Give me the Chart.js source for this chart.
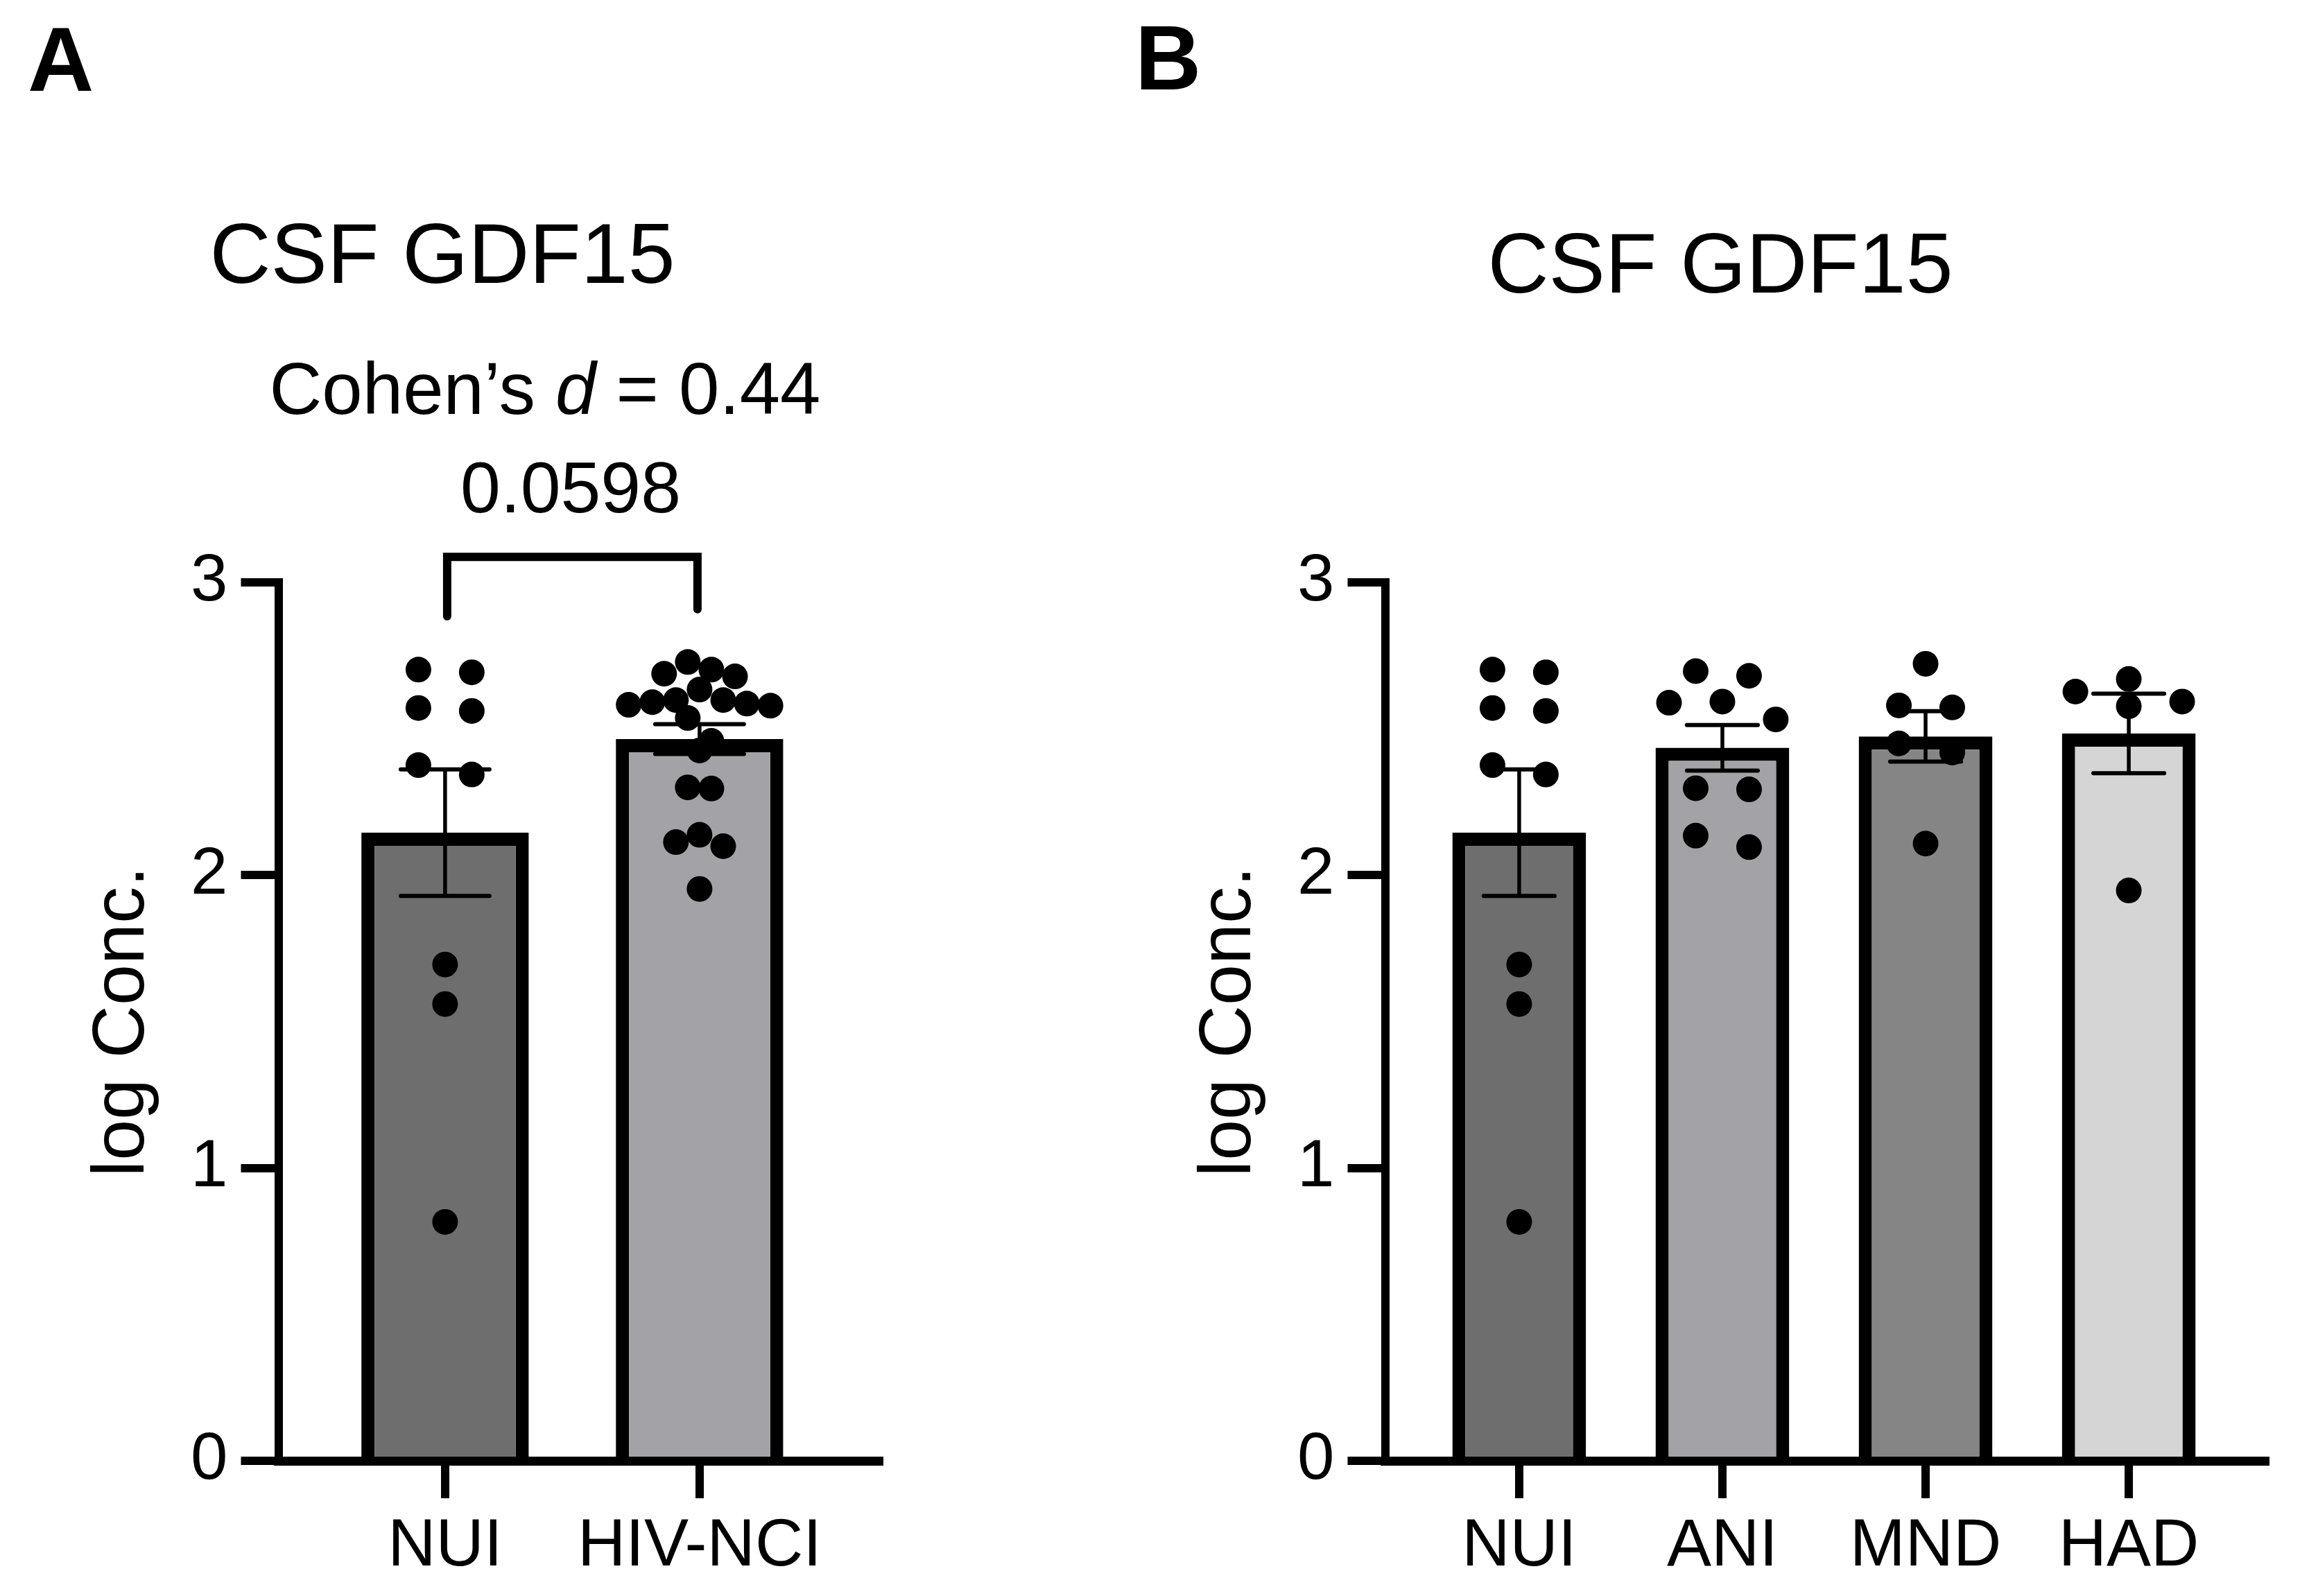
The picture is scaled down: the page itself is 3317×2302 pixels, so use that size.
<!DOCTYPE html>
<html><head><meta charset="utf-8">
<script src="https://cdn.jsdelivr.net/npm/chart.js@4.4.1/dist/chart.umd.min.js"></script>
<style>
html,body{margin:0;padding:0;background:#fff;}
body{width:3317px;height:2302px;position:relative;overflow:hidden;}
canvas{position:absolute;top:0;}
#cA{left:0;}
#cB{left:1600px;}
</style></head><body>
<canvas id="cA" width="1600" height="2302"></canvas>
<canvas id="cB" width="1717" height="2302"></canvas>
<script>
const FONT = "'Liberation Sans', Arial, Helvetica, sans-serif";

// ---------- data ----------
const catsA = ['NUI', 'HIV-NCI'];
const catsB = ['NUI', 'ANI', 'MND', 'HAD'];
const yTicks = [0, 1, 2, 3];

const nuiDots    = [2.702, 2.693, 2.571, 2.561, 2.376, 2.344, 1.695, 1.560, 0.816];
const hivNciDots = [2.728, 2.702, 2.688, 2.679, 2.634, 2.598, 2.598, 2.591, 2.586, 2.582,
                    2.579, 2.537, 2.459, 2.426, 2.300, 2.296, 2.138, 2.113, 2.099, 1.953];
const aniDots    = [2.697, 2.681, 2.593, 2.589, 2.532, 2.297, 2.293, 2.135, 2.096];
const mndDots    = [2.722, 2.580, 2.573, 2.450, 2.419, 2.108];
const hadDots    = [2.670, 2.627, 2.593, 2.577, 1.948];

const meansA = [2.145, 2.465];
const semA   = [0.216, 0.051];
const meansB = [2.145, 2.435, 2.474, 2.484];
const semB   = [0.216, 0.078, 0.086, 0.136];

const colorsA = ['#6e6e6e', '#a3a3a7'];
const colorsB = ['#6e6e6e', '#a3a3a7', '#858585', '#d5d5d5'];

const titleText = 'CSF GDF15';
const yTitle = 'log Conc.';
const effectParts = [{text: 'Cohen\u2019s '}, {text: 'd', italic: true}, {text: ' = 0.44'}];
const pText = '0.0598';
const bracketVals = {top: 3.087, left: 2.884, right: 2.908};

// ---------- helpers ----------
const DOT_R = 18.5;

function swarm(values, ys, barWidth, r) {
  const D = 2 * r, thr = 1.95 * r;
  const pts = values.map(v => ({v, py: ys.getPixelForValue(v), dx: 0})).sort((a, b) => a.py - b.py);
  const rows = []; let cur = null;
  pts.forEach(p => {
    if (!cur || p.py - cur.start >= thr) { cur = {start: p.py, pts: []}; rows.push(cur); }
    cur.pts.push(p);
  });
  const maxN = Math.max(...rows.map(rw => rw.pts.length));
  const step = maxN > 1 ? Math.min(4.16 * r, (barWidth - D) / (maxN - 1)) : 0;
  rows.forEach(row => {
    const n = row.pts.length, slots = [];
    for (let i = 0; i < n; i++) slots.push((i - (n - 1) / 2) * step);
    slots.sort((a, b) => Math.abs(a) - Math.abs(b) || a - b);
    row.pts.forEach((p, k) => p.dx = slots[k]);
  });
  return pts;
}

function drawMixed(ctx, parts, cx, baseline, size) {
  const fonts = parts.map(p => `${p.italic ? 'italic ' : ''}${size}px ${FONT}`);
  const widths = parts.map((p, i) => { ctx.font = fonts[i]; return ctx.measureText(p.text).width; });
  let x = cx - widths.reduce((a, b) => a + b, 0) / 2;
  ctx.textAlign = 'left';
  parts.forEach((p, i) => { ctx.font = fonts[i]; ctx.fillText(p.text, x, baseline); x += widths[i]; });
}

const errorBarPlugin = {
  id: 'errorBars',
  afterDatasetDraw(chart, args, opts) {
    const cfg = opts && opts.cfg;
    if (!cfg || args.meta.type !== 'bar') return;
    const ys = chart.scales.y, ctx = chart.ctx;
    ctx.save();
    ctx.strokeStyle = '#000';
    args.meta.data.forEach((el, i) => {
      const m = cfg.means[i], s = cfg.sems[i];
      const yU = ys.getPixelForValue(m + s), yL = ys.getPixelForValue(m - s);
      const half = el.width * 0.265;
      ctx.lineCap = 'butt'; ctx.lineWidth = 5.5;
      ctx.beginPath(); ctx.moveTo(el.x, yU); ctx.lineTo(el.x, yL); ctx.stroke();
      ctx.lineCap = 'round'; ctx.lineWidth = 6;
      ctx.beginPath();
      ctx.moveTo(el.x - half, yU); ctx.lineTo(el.x + half, yU);
      ctx.moveTo(el.x - half, yL); ctx.lineTo(el.x + half, yL);
      ctx.stroke();
    });
    ctx.restore();
  }
};

const annotatePlugin = {
  id: 'annotate',
  afterDraw(chart, args, opts) {
    const cfg = opts && opts.cfg;
    if (!cfg) return;
    const ctx = chart.ctx;
    ctx.save();
    ctx.fillStyle = '#000';
    ctx.textBaseline = 'alphabetic';
    cfg.annotate(ctx, chart);
    ctx.restore();
  }
};

function makeChart(canvasId, cfg) {
  const dotData = [];
  cfg.dots.forEach((arr, i) => arr.forEach(v => dotData.push({x: i, y: v})));
  const canvas = document.getElementById(canvasId);
  const chart = new Chart(canvas, {
    type: 'bar',
    data: {
      datasets: [
        {
          type: 'bar',
          data: cfg.means.map((m, i) => ({x: i, y: m})),
          backgroundColor: cfg.colors,
          borderColor: '#000',
          borderWidth: 19,
          borderSkipped: 'start',
          barPercentage: 0.658,
          categoryPercentage: 1.0,
          order: 1
        },
        {
          type: 'scatter',
          data: dotData,
          pointRadius: DOT_R,
          pointBorderWidth: 0,
          pointBackgroundColor: '#000',
          pointHoverRadius: DOT_R,
          showLine: false,
          order: 0
        }
      ]
    },
    options: {
      responsive: false,
      devicePixelRatio: 1,
      animation: false,
      events: [],
      layout: {padding: {top: 840, left: 0, right: cfg.padRight, bottom: 0}},
      plugins: {
        legend: {display: false}, tooltip: {enabled: false}, title: {display: false},
        errorBars: {cfg}, annotate: {cfg}
      },
      scales: {
        x: {
          type: 'linear', min: cfg.xmin, max: cfg.xmax, offset: false, bounds: 'data', position: 'bottom',
          afterBuildTicks: s => { s.ticks = cfg.cats.map((c, i) => ({value: i})); },
          ticks: {
            callback: v => cfg.cats[v], autoSkip: false, maxRotation: 0, minRotation: 0,
            font: {family: FONT, size: 96}, color: '#000', padding: 13
          },
          grid: {display: true, offset: false, drawOnChartArea: false, drawTicks: true, tickLength: 54, lineWidth: 12, color: '#000', z: 1},
          border: {display: true, width: 13, color: '#000', z: 1},
          afterFit: s => { s.height = 195; }
        },
        y: {
          type: 'linear', min: 0, max: 3, position: 'left',
          afterBuildTicks: s => { s.ticks = yTicks.map(v => ({value: v})); },
          ticks: {font: {family: FONT, size: 96}, color: '#000', padding: 19},
          grid: {display: true, drawOnChartArea: false, drawTicks: true, tickLength: 54, lineWidth: 12, color: '#000'},
          border: {display: true, width: 12, color: '#000'},
          title: {display: true, text: yTitle, font: {family: FONT, size: 106}, color: '#000', padding: {top: cfg.yTitlePad, bottom: 0}},
          afterFit: s => { s.width = cfg.axisX; }
        }
      }
    },
    plugins: [errorBarPlugin, annotatePlugin]
  });

  // beeswarm spread of dots inside each column, computed from library scales
  const xs = chart.scales.x, ys = chart.scales.y;
  const pxPerUnit = xs.getPixelForValue(1) - xs.getPixelForValue(0);
  const barMeta = chart.getDatasetMeta(0);
  const newData = [];
  cfg.dots.forEach((arr, i) => {
    const pts = swarm(arr, ys, barMeta.data[i].width, DOT_R);
    pts.forEach(p => newData.push({x: i + p.dx / pxPerUnit, y: p.v}));
  });
  chart.data.datasets[1].data = newData;
  chart.update('none');
  return chart;
}

makeChart('cA', {
  cats: catsA, means: meansA, sems: semA, colors: colorsA,
  dots: [nuiDots, hivNciDots],
  xmin: -0.655, xmax: 1.706, padRight: 332, axisX: 401.5, yTitlePad: 114,
  annotate(ctx, chart) {
    ctx.font = `bold 132px ${FONT}`; ctx.textAlign = 'left';
    ctx.fillText('A', 40, 131);
    ctx.font = `122px ${FONT}`; ctx.textAlign = 'center';
    ctx.fillText(titleText, 638, 408);
    drawMixed(ctx, effectParts, 786, 597, 105);
    ctx.font = `104px ${FONT}`; ctx.textAlign = 'center';
    ctx.fillText(pText, 823, 739);
    const xs = chart.scales.x, ys = chart.scales.y;
    const x0 = xs.getPixelForValue(0) + 3, x1 = xs.getPixelForValue(1) - 3;
    const yT = ys.getPixelForValue(bracketVals.top);
    ctx.strokeStyle = '#000'; ctx.lineWidth = 12; ctx.lineCap = 'round'; ctx.lineJoin = 'miter';
    ctx.beginPath();
    ctx.moveTo(x0, ys.getPixelForValue(bracketVals.left));
    ctx.lineTo(x0, yT); ctx.lineTo(x1, yT);
    ctx.lineTo(x1, ys.getPixelForValue(bracketVals.right));
    ctx.stroke();
  }
});

makeChart('cB', {
  cats: catsB, means: meansB, sems: semB, colors: colorsB,
  dots: [nuiDots, aniDots, mndDots, hadDots],
  xmin: -0.660, xmax: 3.672, padRight: 50, axisX: 397.5, yTitlePad: 110,
  annotate(ctx) {
    ctx.font = `bold 132px ${FONT}`; ctx.textAlign = 'left';
    ctx.fillText('B', 37, 129);
    ctx.font = `122px ${FONT}`; ctx.textAlign = 'center';
    ctx.fillText(titleText, 881, 422);
  }
});
</script>
</body></html>
